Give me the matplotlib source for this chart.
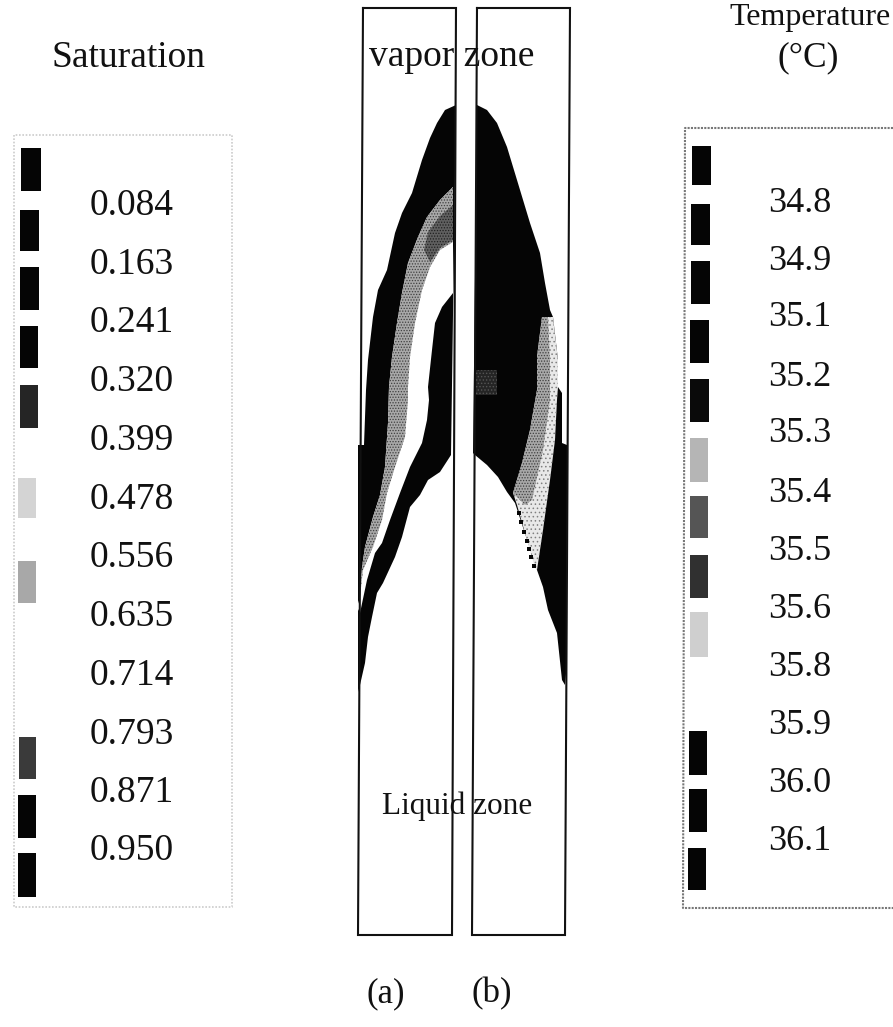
import matplotlib
matplotlib.use("Agg")
import matplotlib.pyplot as plt
from matplotlib.patches import Polygon, Rectangle

plt.rcParams['font.family'] = ['Liberation Serif', 'DejaVu Serif']
plt.rcParams['hatch.linewidth'] = 0.6

sat_labels = ["0.084","0.163","0.241","0.320","0.399","0.478","0.556","0.635","0.714","0.793","0.871","0.950"]
sat_y = [203,262,320,379,438,497,555,614,673,732,790,848]
sat_swatch_y = [(148,191),(210,251),(267,310),(326,368),(385,428),(444,486),(478,518),(561,603),(620,660),(678,720),(737,779),(795,838),(853,897)]
sat_swatch_x = [(21,41),(20,39),(20,39),(20,38),(20,38),(19,37),(18,36),(18,36),(18,36),(18,36),(19,36),(18,36),(18,36)]
sat_swatch_c = ['#050505','#050505','#050505','#050505','#252525','#ffffff','#d4d4d4','#a8a8a8','#ffffff','#ffffff','#3a3a3a','#050505','#050505']

tmp_labels = ["34.8","34.9","35.1","35.2","35.3","35.4","35.5","35.6","35.8","35.9","36.0","36.1"]
tmp_y = [201,258,315,374,431,490,548,607,665,723,781,839]
tmp_swatch_y = [(146,185),(204,245),(261,304),(320,363),(379,422),(438,482),(496,538),(555,598),(612,657),(670,715),(731,775),(789,832),(848,890)]
tmp_swatch_x = [(692,711),(691,710),(691,710),(690,709),(690,709),(690,708),(690,708),(690,708),(690,708),(690,708),(689,707),(689,707),(688,706)]
tmp_swatch_c = ['#050505','#050505','#050505','#050505','#0a0a0a','#b5b5b5','#555555','#303030','#cfcfcf','#ffffff','#050505','#050505','#050505']

# panel (a) boundaries
a_black = [(456,105),(445,110),(437,123),(430,138),(422,160),(412,193),(402,213),(395,233),(387,270),(378,290),
           (373,317),(368,360),(366,390),(364,445),(358,445),(358,692),(360,685),(365,663),(368,637),(372,617),(377,593),
           (383,583),(395,557),(402,537),(410,507),(420,495),(428,480),(440,472),(451,455)]
a_hole = [(453,187),(440,200),(427,217),(418,237),(408,263),(402,293),(397,323),(392,357),(389,387),(388,423),
          (385,467),(380,495),(373,517),(365,547),(362,567),(360,597),(357,607),(360,613),(367,580),(375,553),
          (382,543),(390,520),(400,493),(410,467),(422,443),(427,420),(429,400),(428,387),(432,350),(435,323),
          (442,307),(453,293)]
a_band = [(453,187),(440,200),(427,217),(418,237),(408,263),(402,293),(397,323),(392,357),(389,387),(388,423),
          (385,467),(380,495),(373,517),(365,547),(362,567),(360,597),(363,570),(373,547),(382,520),(387,493),
          (395,467),(405,437),(408,400),(408,387),(410,357),(415,323),(422,290),(430,267),(440,250),(453,242)]
a_dark = [(453,205),(440,216),(428,232),(424,250),(430,262),(440,248),(453,240)]

# panel (b) boundaries
b_black = [(477,105),(487,110),(497,123),(507,147),(517,180),(530,223),(540,253),(545,283),(550,310),(553,317),
           (558,360),(558,387),(562,393),(562,443),(567,445),(567,663),(565,685),(562,680),(557,633),(548,610),
           (543,587),(537,570),(515,503),(507,492),(498,477),(487,465),(475,455),(473,453)]
b_band = [(542,317),(553,317),(558,360),(558,387),(557,400),(555,440),(550,480),(543,530),(537,570),(535,568),
          (517,505),(513,493),(522,463),(530,430),(537,390),(537,357)]
b_gray = [(542,317),(548,317),(550,360),(550,400),(543,450),(532,500),(525,505),(513,493),(522,463),(530,430),(537,390),(537,357)]
b_speck = [(475,370),(497,370),(497,395),(475,395)]
b_dots_x = [519,521,524,527,529,531,534]
b_dots_y = [513,522,532,541,549,557,566]

fig = plt.figure(figsize=(8.93,10.27), dpi=100)
ax = fig.add_axes([0,0,1,1])
ax.set_xlim(0,893); ax.set_ylim(1027,0); ax.axis('off')

def poly(pts, **kw):
    ax.add_patch(Polygon(pts, closed=True, lw=0, **kw))

poly(a_black, fc='#050505')
poly(a_hole, fc='white')
poly(a_band, fc='#a8a8a8', ec='#404040', hatch='......')
poly(a_dark, fc='#606060', ec='#202020', hatch='......')
poly(b_black, fc='#050505')
poly(b_band, fc='#e8e8e8', ec='#808080', hatch='....')
poly(b_gray, fc='#a8a8a8', ec='#404040', hatch='......')
poly(b_speck, fc='#252525', ec='#555555', hatch='.....')
ax.scatter(b_dots_x, b_dots_y, s=10, marker='s', c='#050505', lw=0)

# panel frames
for xs in ([363,358,452,456,363],[477,472,565,570,477]):
    ax.plot(xs, [8,935,935,8,8], color='#111111', lw=1.5, solid_joinstyle='miter')

# legends
ax.plot([14,14,232,232,14],[135,907,907,135,135], color='#cccccc', lw=1.2, ls=(0,(1,1)))
ax.plot([893,685,683,893],[128,128,908,908], color='#777777', lw=1.5, ls=(0,(1,0.6)))
for xr, yr, c in zip(sat_swatch_x, sat_swatch_y, sat_swatch_c):
    ax.add_patch(Rectangle((xr[0],yr[0]), xr[1]-xr[0], yr[1]-yr[0], fc=c, lw=0))
for xr, yr, c in zip(tmp_swatch_x, tmp_swatch_y, tmp_swatch_c):
    ax.add_patch(Rectangle((xr[0],yr[0]), xr[1]-xr[0], yr[1]-yr[0], fc=c, lw=0))

tc = '#111111'
dy = 3
for s, y in zip(sat_labels, sat_y):
    ax.text(90, y+dy, s, fontsize=27, va='center', ha='left', color=tc)
for s, y in zip(tmp_labels, tmp_y):
    ax.text(768, y+dy, s, fontsize=26, va='center', ha='left', color=tc)

ax.text(128, 55+dy, "Saturation", fontsize=27, ha='center', va='center', color=tc)
ax.text(810, 15+dy, "Temperature", fontsize=23, ha='center', va='center', color=tc)
ax.text(808, 55+dy, "(°C)", fontsize=25.5, ha='center', va='center', color=tc)
ax.text(452, 54+dy, "vapor zone", fontsize=27, ha='center', va='center', color=tc)
ax.text(457, 803+dy, "Liquid zone", fontsize=22.5, ha='center', va='center', color=tc)
ax.text(386, 991+dy, "(a)", fontsize=25, ha='center', va='center', color=tc)
ax.text(492, 991+dy, "(b)", fontsize=25, ha='center', va='center', color=tc)

fig.savefig("out.png", dpi=100)
